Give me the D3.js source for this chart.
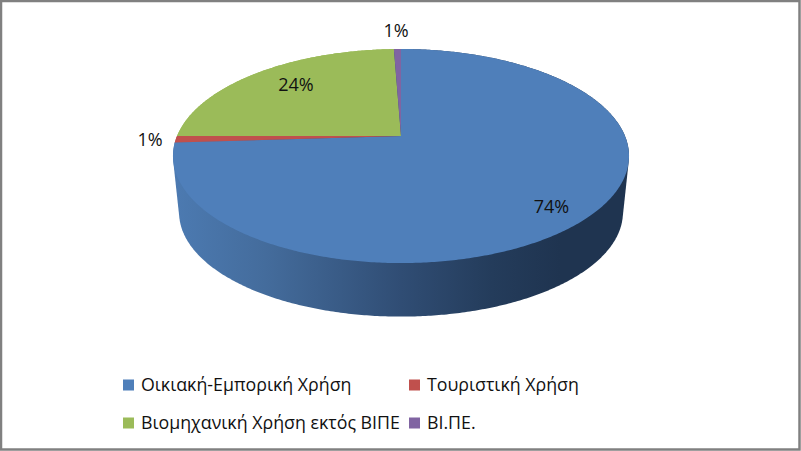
<!DOCTYPE html>
<html><head><meta charset="utf-8">
<script src="https://cdn.jsdelivr.net/npm/d3@7"></script>
<style>html,body{margin:0;padding:0;background:#fff}svg{display:block}text{font-family:"Open Sans","Noto Sans",sans-serif;fill:#111}</style>
</head><body><svg id="c" width="801" height="451"></svg>
<script>
const categories = ["Οικιακή-Εμπορική Χρήση","Τουριστική Χρήση","Βιομηχανική Χρήση εκτός ΒΙΠΕ","ΒΙ.ΠΕ."];
const values = [74.0, 1.0, 24.4, 0.6];
const colours = ["#4f7fba","#c0504d","#9bbb59","#8064a2"];

const svg = d3.select("#c");
const W = 801, H = 451;
svg.append("rect").attr("x",1).attr("y",1).attr("width",W-2.5).attr("height",H-2.5)
  .attr("fill","#fff").attr("stroke","#808080").attr("stroke-width",2.5);

const defs = svg.append("defs");
const g = defs.append("linearGradient").attr("id","side").attr("gradientUnits","userSpaceOnUse")
  .attr("x1",175).attr("x2",628).attr("y1",0).attr("y2",0);
[[0,"#4c7ab1"],[0.2,"#446c9c"],[0.5,"#304d74"],[0.7,"#243c5b"],[0.85,"#1f3450"],[1,"#1f3450"]]
  .forEach(([o,c])=>g.append("stop").attr("offset",o).attr("stop-color",c));

// perspective projection of the pie disc
const project = (cx,cy,a,b,p) => t => {
  const u = Math.sin(t), v = Math.cos(t), w = 1 + p*v;
  return [cx + b*u/w, cy - a*v/w];
};
const topRim = project(401,136,103.3,224,0.187);
const botRim = project(401,193,100.5,218,0.187);

const arcs = d3.pie().sort(null).value(d=>d)(values);
const steps = (a,b) => { const n = Math.max(2,Math.ceil((b-a)/0.01)); return d3.range(n+1).map(i=>a+(b-a)*i/n); };
const line = d3.line();

// side wall: the back slices first, the front slice over them
arcs.slice().reverse().forEach(d=>{
  const i = d.index;
  const ts = steps(d.startAngle,d.endAngle);
  const hull = d3.polygonHull(ts.map(topRim).concat(ts.map(botRim)));
  svg.append("path").attr("d",line(hull)+"Z").attr("fill", i===0 ? "url(#side)" : colours[i]);
});
// top face
arcs.forEach((d,i)=>{
  const pts = [[401,136]].concat(steps(d.startAngle,d.endAngle).map(topRim));
  svg.append("path").attr("d",line(pts)+"Z").attr("fill",colours[i]);
});

// labels
const labelPos = [[551.5,207],[150,140],[296,85],[396,31]];
values.forEach((v,i)=>{
  svg.append("text").attr("x",labelPos[i][0]).attr("y",labelPos[i][1]).attr("dy","0.35em")
    .attr("text-anchor","middle").attr("font-size",18).text(Math.round(v)+"%");
});

// legend
const legendPos = [[123,385],[409,385],[123,423],[409,423]];
categories.forEach((c,i)=>{
  const [x,y]=legendPos[i];
  svg.append("rect").attr("x",x).attr("y",y-5.5).attr("width",11).attr("height",11).attr("fill",colours[i]);
  svg.append("text").attr("x",x+18).attr("y",y).attr("dy","0.35em").attr("font-size",17.8).text(c);
});
</script></body></html>
